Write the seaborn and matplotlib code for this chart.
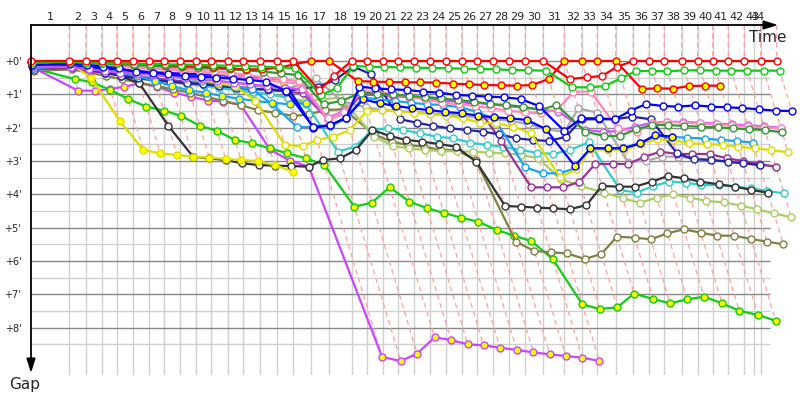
import numpy as np
import pandas as pd
import seaborn as sns
import matplotlib.pyplot as plt

N = np.nan

# race time (min) at which the leader completes each lap (lap 0 = start)
laps = list(range(0, 45))
lap_end = [0.0, 3.83, 5.50, 7.07, 8.57, 10.17, 11.80, 13.33, 14.93, 16.53, 18.03,
           19.67, 21.23, 22.87, 24.60, 26.23, 27.97, 29.83, 32.07, 33.63, 35.17,
           36.73, 38.30, 39.90, 41.50, 43.07, 44.63, 46.23, 47.83, 49.43, 51.23,
           53.33, 55.07, 56.63, 58.47, 60.23, 61.83, 63.33, 65.07, 66.67, 68.17,
           69.73, 71.33, 72.97, 74.57]
time_axis_end = 72.3
gap_ticks = list(range(9))
gap_labels = ["+%d'" % g for g in gap_ticks]

# gap to leader (min) per lap, start + laps 1..44, one list per car
red_w = [0] + [0] * 15 + [0.88, 0.45] + [0] * 13 + [0.54, 0.49, 0.45, 0.17] + [0] * 10
red_y = [.03, .02, .04, .05, .07, .08, .1, .12, .14, .16, .18, .22, .25, .25, .2, .1,
         0, 0, .6, .62, .63, .64, .64, .65, .68, .7, .72, .73, .74, .72, .54,
         0, 0, 0, 0, .84, .82, .83, .75, .74, .74, N, N, N, N]
lime_w = [.05, .03, .05, .06, .07, .08, .09, .1, .11, .12, .13, .14, .15, .17, .19, .22,
          1.03, .8, .15, .17, .18, .19, .2, .21, .22, .23, .24, .25, .27, .28, .29,
          .79, .79, .75, .52, .3, .3, .31, .28, .28, .29, .29, .29, .29, .29]
lime_y = [.22, .54, .64, .87, 1.14, 1.37, 1.49, 1.64, 1.94, 2.1, 2.37, 2.47, 2.62, 2.77,
          2.92, 3.12, 4.37, 4.25, 3.79, 4.22, 4.41, 4.56, 4.7, 4.82, 5.07, 5.24, 5.4,
          5.94, 7.3, 7.44, 7.39, 6.98, 7.14, 7.27, 7.15, 7.07, 7.27, 7.49, 7.62, 7.79,
          N, N, N, N, N]
violet_y = [.2, .89, .89, .84, .77, .67, .77, .95, 1.07, 1.19, 1.22, 1.32, 2.65, 2.99,
            3.17, 8.88, 9.0, 8.78, 8.29, 8.37, 8.5, 8.53, 8.6, 8.67, 8.74, 8.8, 8.85,
            8.9, 9.0] + [N] * 16
yellow_y = [.06, .07, .5, 1.79, 2.67, 2.77, 2.82, 2.87, 2.9, 2.94, 2.97, 3.0, 3.12,
            3.32] + [N] * 31
black_w = [.25, .1, .2, .32, .45, .67, 1.95, 2.87, 2.92, 2.97, 3.07, 3.12, 3.14, 3.15,
           3.17, 2.97, 2.92, 2.67, 2.07, 2.25, 2.37, 2.42, 2.49, 2.57, 3.02, 4.35,
           4.37, 4.4, 4.42, 4.45, 4.32, 3.75, 3.77, 3.77, 3.62, 3.45, 3.52, 3.62,
           3.7, 3.77, 3.87, 3.95, N, N, N]
olive_w = [.3, .25, .35, .45, .55, .65, .75, .85, .95, 1.08, 1.2, 1.32, 1.48, 1.55,
           1.65, 1.6, 1.47, 1.45, 2.19, 2.42, 2.52, 2.57, 2.67, 2.67, 2.97, 5.42,
           5.7, 5.74, 5.77, 5.94, 5.79, 5.27, 5.3, 5.35, 5.17, 5.05, 5.15, 5.24,
           5.24, 5.34, 5.42, 5.5, N, N, N]
lightgreen_w = [.28, .2, .3, .38, .45, .52, .58, .64, .7, .76, .82, .88, .95, 1.0, 1.1,
                1.2, 1.15, 1.1, 2.27, 2.55, 2.62, 2.67, 2.7, 2.71, 2.72, 2.75, 2.77,
                2.82, 2.92, 3.55, 3.75, 3.95, 4.12, 4.25, 4.1, 4.0, 4.1, 4.2, 4.24,
                4.34, 4.45, 4.57, 4.69, N, N]
teal_w = [.24, .15, .25, .32, .4, .47, .53, .6, .67, .73, .8, .87, .93, 1.0, 1.1, 1.3,
          2.72, 2.57, 2.07, 2.02, 2.07, 2.17, 2.27, 2.32, 2.45, 2.52, 2.57, 2.67,
          2.75, 2.79, 2.67, 2.44, 3.87, 3.95, 3.75, 3.62, 3.65, 3.72, 3.72, 3.77,
          3.82, 3.9, 3.97, N, N]
pink_w = [.08, .05, .08, .1, .13, .15, .18, .2, .23, .27, .3, .35, .42, .5, .55, .6,
          1.72, 1.52, .92, .95, 1.0, 1.08, 1.15, 1.25, 1.3, 1.35, 1.42, 1.49, 1.54,
          1.57, 1.45, .92, .92, 2.02, 2.12, 1.87, 1.82, 1.85, 1.87, 1.9, 1.93, 1.96,
          1.99, 2.02, N]
pink_y = [.1, .08, .12, .15, .18, .2, .23, .26, .3, .34, .38, .43, .5, .58, .63, .68,
          1.78, 1.55, .9, .93, .98] + [N] * 24
dgreen_w = [.04, .04, .06, .08, .1, .12, .14, .16, .18, .2, .22, .25, .28, .32, .37, .42,
            1.3, 1.2, .95, .98, 1.0, 1.05, 1.08, 1.12, 1.17, 1.22, 1.29, 1.32, 1.37,
            1.47, 1.32, 2.12, 2.25, 2.25, 2.05, 1.92, 1.92, 1.95, 1.97, 1.99, 2.02,
            2.05, 2.07, 2.14, N]
blue_w = [.12, .08, .12, .17, .22, .33, .35, .4, .45, .47, .5, .53, .57, .62, .9, 1.97,
          1.93, 1.7, .77, .82, .85, .87, .92, .95, 1.02, 1.04, 1.07, 1.09, 1.14, 1.35,
          2.1, 1.72, 1.72, 1.75, 1.49, 1.29, 1.35, 1.37, 1.33, 1.37, 1.39, 1.41, 1.45,
          1.49, 1.5]
blue_y = [.14, .12, .18, .22, .26, .3, .33, .36, .38, .4, .42, .45, .48, .5, .55, 2.0,
          1.93, 1.7, 1.15, 1.27, 1.35, 1.42, 1.47, 1.53, 1.57, 1.64, 1.69, 1.72, 1.77,
          2.04, 3.15, 2.62, 2.62, 2.62, 2.47, 2.22, 2.27] + [N] * 8
navy_w = [.2, .15, .25, .35, .45, .52, .58, .62, .67, .7, .75, .8, .85, .85, .9, .83,
          .77, .57, .17, .4, 1.75, 1.85, 1.95, 2.02, 2.07, 2.12, 2.2, 2.32, 2.37, 2.4,
          2.27, 1.75, 1.75, 1.75, 1.67, 1.75, 2.77, 2.95, 2.97, 3.02, 3.07, 3.12,
          N, N, N]
violet_w = [.16, .18, .25, .3, .35, .38, .42, .46, .5, .55, .6, .65, .7, .75, .8, .85,
            1.7, 1.5, .95, .98, 1.02, 1.06, 1.1, 1.15, 1.2, 1.25, 1.3, 1.35, 1.4,
            1.45, 1.52, 2.07, 2.12, 2.1, 1.97, 1.85, 1.82, 1.83, 1.85, 1.88, 1.9,
            1.93, 1.96, 2.0, N]
purple_w = [.26, .22, .3, .36, .42, .47, .52, .57, .62, .67, .72, .77, .82, .87, .92, .97,
            1.75, 1.55, 1.0, 1.02, 1.05, 1.08, 1.12, 1.17, 1.22, 1.27, 2.4, 3.79,
            3.79, 3.79, 3.62, 3.09, 3.09, 3.09, 2.87, 2.72, 2.79, 2.79, 2.79, 2.92,
            3.0, 3.09, 3.17, N, N]
gray_w = [.18, .12, .18, .24, .3, .35, .4, .45, .5, .55, .6, .65, .72, .8, .85, .7, .52,
          1.2, 1.39, 1.47, 1.5, 1.53, 1.57, 1.6, 1.65, 1.7, 1.75, 1.8, 1.9, 2.05,
          2.12, 1.42, 1.55, 3.02, 3.0, 2.87, 2.87, 2.92, 2.95, 3.02, 3.07, 3.12,
          3.17, N, N]
yellow_w = [.1, .1, .15, .2, .25, .3, .36, .42, .5, .58, .66, .75, 1.2, 2.52, 2.55, 2.37,
            2.27, 2.07, 1.5, 1.47, 1.52, 1.55, 1.59, 1.64, 1.72, 1.85, 1.87, 1.97,
            2.17, 3.49, 3.25, 2.65, 2.67, 2.67, 2.49, 2.35, 2.37, 2.47, 2.49, 2.52,
            2.57, 2.62, 2.67, 2.74, N]
sky_w = [.18, .1, .15, .2, .25, .3, .38, .45, .52, .6, .68, .76, .85, 1.3, 1.97, 1.99,
         1.95, 1.72, 1.1, 1.15, 1.2, 1.25, 1.3, 1.32, 1.39, 1.52, 1.75, 3.19, 3.37,
         3.37, 3.22, 2.62, 2.62, 2.62, 2.45, 2.25, 2.28, 2.3, 2.33, 2.37, 2.4, 2.45,
         N, N, N]
sky_y = [.22, .14, .2, .28, .35, .45, .6, .75, .88, .95, 1.05, 1.13, 1.2, 1.25, 1.3,
         1.27] + [N] * 29

# line colour, marker fill (drawn bottom to top)
cars = [
    ("violet_y", violet_y, "#cc44ff", "#ffff00"),
    ("lime_y", lime_y, "#11cc11", "#ffff00"),
    ("olive_w", olive_w, "#808040", "white"),
    ("lightgreen_w", lightgreen_w, "#aacc66", "white"),
    ("teal_w", teal_w, "#33cccc", "white"),
    ("black_w", black_w, "#333333", "white"),
    ("gray_w", gray_w, "#aaaaaa", "white"),
    ("purple_w", purple_w, "#993399", "white"),
    ("navy_w", navy_w, "#2222aa", "white"),
    ("sky_w", sky_w, "#1aa3f0", "white"),
    ("sky_y", sky_y, "#1aa3f0", "#ffff00"),
    ("yellow_y", yellow_y, "#dddd00", "#ffff00"),
    ("yellow_w", yellow_w, "#dddd00", "white"),
    ("blue_y", blue_y, "#0000ff", "#ffff00"),
    ("pink_y", pink_y, "#ff88bb", "#ffff00"),
    ("violet_w", violet_w, "#cc55ff", "white"),
    ("pink_w", pink_w, "#ff88bb", "white"),
    ("dgreen_w", dgreen_w, "#339933", "white"),
    ("blue_w", blue_w, "#0000ff", "white"),
    ("red_y", red_y, "#ff0000", "#ffff00"),
    ("lime_w", lime_w, "#11cc11", "white"),
    ("red_w", red_w, "#ff0000", "white"),
]

rows = []
for name, gaps, _, _ in cars:
    for lap, g in zip(laps, gaps):
        if not np.isnan(g):
            rows.append((name, lap, lap_end[lap] + g, g))
df = pd.DataFrame(rows, columns=["car", "lap", "t", "gap"])

sns.set_style("white")
plt.rcParams['font.family'] = ['DejaVu Sans']

fig = plt.figure(figsize=(8, 4), dpi=100)
ax = fig.add_axes([31 / 800, 25 / 400, 747 / 800, 350 / 400])
x0, x1 = 0, 74.7
y_top, y_bot = -1.08, 9.42

# grid
ax.vlines(lap_end[1:-1] + [time_axis_end], y_top, y_bot, color="#d0d0d0", lw=1, zorder=0)
for g in np.arange(0.5, 9, 1):
    ax.hlines(g, 0, 73.9, color="#d0d0d0", lw=1, zorder=0)
for g in gap_ticks:
    ax.hlines(g, 0, 73.9, color="#888888", lw=1, zorder=0.5)

# one dashed guide per lap: leader's finish line, then slanted by gap
gmax = df.groupby("lap")["gap"].max()
for lap, t in zip(laps[1:], lap_end[1:]):
    gm = gmax.get(lap, 0)
    ax.plot([t, t, t + gm], [y_top, 0, gm], color="#ffa0a0", lw=0.9,
            ls=(0, (4, 3)), zorder=1, clip_on=False)

for name, _, col, face in cars:
    d = df[df["car"] == name]
    sns.lineplot(data=d, x="t", y="gap", ax=ax, color=col, lw=1.6,
                 marker="o", markersize=5, markerfacecolor=face,
                 markeredgecolor=col, markeredgewidth=1.0,
                 sort=False, estimator=None, legend=False,
                 clip_on=False, zorder=2)

ax.set_xlim(x0, x1)
ax.set_ylim(y_bot, y_top)
for s in ax.spines.values():
    s.set_visible(False)
ax.set_xlabel("")
ax.set_ylabel("")

# axis arrows
arrow = dict(arrowstyle="-|>,head_length=0.7,head_width=0.22", color="black",
             lw=1.3, mutation_scale=12, shrinkA=0, shrinkB=0)
ax.annotate("", xy=(x1, y_top), xytext=(0, y_top), arrowprops=arrow,
            annotation_clip=False)
ax.annotate("", xy=(0, 9.36), xytext=(0, y_top), arrowprops=arrow,
            annotation_clip=False)

# lap labels centred on each lap interval
starts = lap_end[:-1]
ends = lap_end[1:-1] + [time_axis_end]
label_x = [(a + b) / 2 for a, b in zip(starts, ends)]
label_x[-1] = (lap_end[-2] + time_axis_end) / 2
ax.xaxis.tick_top()
ax.set_xticks(label_x)
ax.set_xticklabels([str(l) for l in laps[1:]], fontsize=8)
ax.set_yticks(gap_ticks)
ax.set_yticklabels(gap_labels, fontsize=7)
ax.tick_params(axis="x", length=0, pad=2.5)
ax.tick_params(axis="y", length=0, pad=7)

ax.text(73.7, -0.72, "Time", ha="center", va="center", fontsize=11)
ax.text(-0.6, 9.72, "Gap", ha="center", va="center", fontsize=11, clip_on=False)

fig.savefig("out.png", dpi=100)
